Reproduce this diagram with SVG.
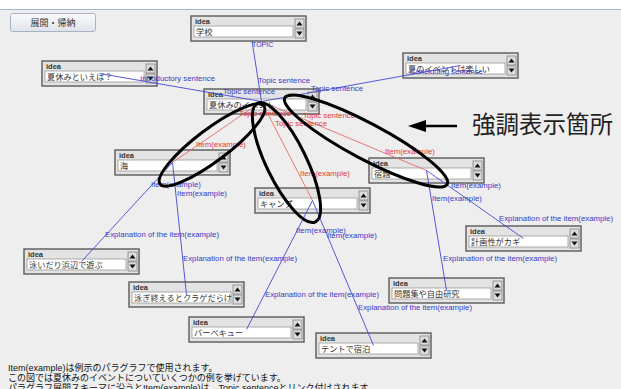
<svg xmlns="http://www.w3.org/2000/svg" width="621" height="389" viewBox="0 0 621 389">
<style>
.bg{fill:#eeeeee}
.box{fill:#e3e3e3;stroke:#5a5a5a;stroke-width:1.4}
.fld{fill:#ffffff;stroke:#9a9a9a;stroke-width:0.8}
.ttl{font-family:"Liberation Sans",Arial,sans-serif;font-size:7.5px;font-weight:bold;fill:#333}
.val{font-family:"Noto Sans CJK JP",sans-serif;font-size:8.2px;fill:#333}
.sp{fill:#dcdcdc;stroke:#777;stroke-width:0.7}
.tri{fill:#111}
.lb{stroke:#4646d6;stroke-width:0.9;fill:none}
.lr{stroke:#e76a6a;stroke-width:0.9;fill:none}
.tb{font-family:"Liberation Sans",Arial,sans-serif;font-size:7.8px;fill:#3a3ac8}
.tr{font-family:"Liberation Sans",Arial,sans-serif;font-size:7.8px;fill:#e23a3a}
.el{fill:none;stroke:#000;stroke-width:3}
.note{font-family:"Liberation Sans","Noto Sans CJK JP",sans-serif;font-size:9px;fill:#111}
</style>
<defs>
<g id="spin">
<rect class="sp" x="104" y="3" width="9" height="9"/>
<path class="tri" d="M105.5 9.5 L108.5 5.5 L111.5 9.5 Z"/>
<rect class="sp" x="104" y="13" width="9" height="9"/>
<path class="tri" d="M105.5 15.5 L111.5 15.5 L108.5 19.5 Z"/>
</g>
<g id="frame">
<rect class="box" x="0" y="0" width="115" height="25"/>
<text class="ttl" x="4" y="8">idea</text>
<rect class="fld" x="3" y="10" width="99" height="11"/>
<use href="#spin"/>
</g>
<linearGradient id="btn" x1="0" y1="0" x2="0" y2="1">
<stop offset="0" stop-color="#fafbfd"/>
<stop offset="1" stop-color="#dfe3ea"/>
</linearGradient>
</defs>
<rect class="bg" x="0" y="0" width="621" height="389"/>
<rect x="0" y="0" width="621" height="9" fill="#ffffff"/>
<line x1="0" y1="9.5" x2="621" y2="9.5" stroke="#9fb6d6" stroke-width="1"/>
<g id="button">
<rect x="10.5" y="13.5" width="85" height="18" rx="2" fill="url(#btn)" stroke="#a9b3c4"/>
<text x="53" y="26" text-anchor="middle" style="font-family:'Noto Sans CJK JP',sans-serif;font-size:9px;fill:#333">展開・帰納</text>
</g>
<g id="nodes">
<g id="n_school" transform="translate(191,16)"><use href="#frame"/><text class="val" x="5" y="19">学校</text></g>
<g id="n_intro" transform="translate(42,61)"><use href="#frame"/><text class="val" x="5" y="19">夏休みといえば？</text></g>
<g id="n_topic" transform="translate(204,89)"><use href="#frame"/><text class="val" x="5" y="19">夏休みのイベント</text></g>
<g id="n_concl" transform="translate(403,53)"><use href="#frame"/><text class="val" x="5" y="19">夏のイベントは楽しい</text></g>
<g id="n_umi" transform="translate(115,150)"><use href="#frame"/><text class="val" x="5" y="19">海</text></g>
<g id="n_camp" transform="translate(255,188)"><use href="#frame"/><text class="val" x="5" y="19">キャンプ</text></g>
<g id="n_shukudai" transform="translate(369,158)"><use href="#frame"/><text class="val" x="5" y="19">宿題</text></g>
<g id="n_keikaku" transform="translate(466,226)"><use href="#frame"/><text class="val" x="5" y="19">計画性がカギ</text></g>
<g id="n_oyoi" transform="translate(24,249)"><use href="#frame"/><text class="val" x="5" y="19">泳いだり浜辺で遊ぶ</text></g>
<g id="n_kurage" transform="translate(129,282)"><use href="#frame"/><text class="val" x="5" y="19">泳ぎ終えるとクラゲだらけ</text></g>
<g id="n_mondai" transform="translate(389,278)"><use href="#frame"/><text class="val" x="5" y="19">問題集や自由研究</text></g>
<g id="n_bbq" transform="translate(189,317)"><use href="#frame"/><text class="val" x="5" y="19">バーベキュー</text></g>
<g id="n_tent" transform="translate(316,333)"><use href="#frame"/><text class="val" x="5" y="19">テントで宿泊</text></g>
</g>
<g id="connectors">
<line class="lb" x1="252" y1="41" x2="261.5" y2="101.5"/>
<line class="lb" x1="99.5" y1="73.5" x2="261.5" y2="101.5"/>
<line class="lb" x1="460.5" y1="65.5" x2="261.5" y2="101.5"/>
<line class="lr" x1="261.5" y1="101.5" x2="172.5" y2="162.5"/>
<line class="lr" x1="261.5" y1="101.5" x2="312.5" y2="200.5"/>
<line class="lr" x1="261.5" y1="101.5" x2="426.5" y2="170.5"/>
<line class="lb" x1="172.5" y1="162.5" x2="81.5" y2="261.5"/>
<line class="lb" x1="172.5" y1="162.5" x2="186.5" y2="294.5"/>
<line class="lb" x1="312.5" y1="200.5" x2="246.5" y2="329.5"/>
<line class="lb" x1="312.5" y1="200.5" x2="373.5" y2="345.5"/>
<line class="lb" x1="426.5" y1="170.5" x2="523.5" y2="238.5"/>
<line class="lb" x1="426.5" y1="170.5" x2="446.5" y2="290.5"/>
<text class="tb" x="252" y="47" style="font-size:7px">TOPIC</text>
<text class="tb" x="258" y="83">Topic sentence</text>
<text class="tb" x="140" y="81">Introductory sentence</text>
<text class="tb" x="223" y="94">Topic sentence</text>
<text class="tb" x="311" y="91">Topic sentence</text>
<text class="tb" x="410" y="74">Concluding sentence</text>
<text class="tr" x="239" y="116">Topic sentence</text>
<text class="tr" x="275" y="126">Topic sentence</text>
<text class="tr" x="303" y="118">Topic sentence</text>
<text class="tr" x="196" y="147">Item(example)</text>
<text class="tr" x="300" y="176">Item(example)</text>
<text class="tr" x="385" y="154">Item(example)</text>
<text class="tb" x="151" y="187">Item(example)</text>
<text class="tb" x="177" y="196">Item(example)</text>
<text class="tb" x="105" y="237">Explanation of the item(example)</text>
<text class="tb" x="183" y="261">Explanation of the item(example)</text>
<text class="tb" x="296" y="233">Item(example)</text>
<text class="tb" x="327" y="238">Item(example)</text>
<text class="tb" x="265" y="297">Explanation of the item(example)</text>
<text class="tb" x="358" y="310">Explanation of the item(example)</text>
<text class="tb" x="451" y="188">Item(example)</text>
<text class="tb" x="432" y="201">Item(example)</text>
<text class="tb" x="499" y="221">Explanation of the item(example)</text>
<text class="tb" x="443" y="261">Explanation of the item(example)</text>
</g>
<g id="highlight">
<ellipse class="el" cx="212" cy="145" rx="65" ry="16" transform="rotate(-37 212 145)"/>
<ellipse class="el" cx="286.5" cy="162.5" rx="66" ry="20" transform="rotate(64 286.5 162.5)"/>
<ellipse class="el" cx="366" cy="141" rx="92" ry="18" transform="rotate(28 366 141)"/>
<line x1="424" y1="126" x2="457" y2="126" stroke="#000" stroke-width="2.7"/>
<path d="M408 126 L426 120 L426 132 Z" fill="#000"/>
<text x="472" y="133" style="font-family:'Noto Sans CJK JP',sans-serif;font-size:23.5px;fill:#222">強調表示箇所</text>
</g>
<g id="notes">
<text class="note" x="8" y="371">Item(example)は例示のパラグラフで使用されます。</text>
<text class="note" x="8" y="381">この図では夏休みのイベントについていくつかの例を挙げています。</text>
<text class="note" x="8" y="391">パラグラフ展開スキーマに沿うとItem(example)は、Topic sentenceとリンク付けされます。</text>
</g>
</svg>
